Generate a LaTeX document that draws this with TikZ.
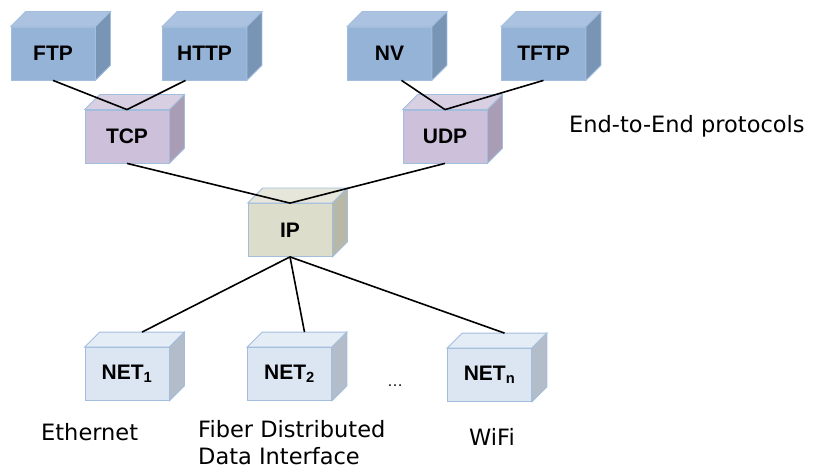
\documentclass[tikz,border=0pt]{standalone}
\usepackage{fontspec}
\setmainfont{Liberation Sans}
\newfontfamily\labelfont{DejaVu Sans}

\definecolor{appfront}{HTML}{95B3D7}
\definecolor{apptop}{HTML}{ABC3E0}
\definecolor{appside}{HTML}{7995B6}
\definecolor{tpfront}{HTML}{CCC0DA}
\definecolor{tptop}{HTML}{D8CFE3}
\definecolor{tpside}{HTML}{A99DB5}
\definecolor{ipfront}{HTML}{DDDDCC}
\definecolor{iptop}{HTML}{E6E6DA}
\definecolor{ipside}{HTML}{B8B8A8}
\definecolor{netfront}{HTML}{DCE6F2}
\definecolor{nettop}{HTML}{E4ECF6}
\definecolor{netside}{HTML}{B3BDC9}
\definecolor{edge}{HTML}{A3BEDD}

\begin{document}
\begin{tikzpicture}[x=1pt, y=-1pt,
        box/.style={draw=edge, line width=0.8pt, minimum width=84pt, minimum height=53pt,
            inner sep=0pt, font=\fontsize{21}{24}\selectfont\bfseries},
        link/.style={line width=1.6pt},
        caption/.style={font=\labelfont\fontsize{22.5}{27}\selectfont, inner sep=0pt}]
        \useasboundingbox (0, 0) rectangle (813, 470);

        \node [box, fill=appfront] (ftp) at (53, 53.5) {FTP};
        \node [box, fill=appfront] (http) at (204.5, 53.5) {HTTP};
        \node [box, fill=appfront] (nv) at (389.5, 53.5) {NV};
        \node [box, fill=appfront] (tftp) at (543.5, 53.5) {TFTP};
        \node [box, fill=tpfront] (tcp) at (127, 136.5) {TCP};
        \node [box, fill=tpfront] (udp) at (445, 136.5) {UDP};
        \node [box, fill=ipfront] (ip) at (290, 230) {IP};
        \node [box, fill=netfront] (net1) at (127, 374) {NET\textsubscript{1}};
        \node [box, fill=netfront] (net2) at (289.5, 374) {NET\textsubscript{2}};
        \node [box, fill=netfront] (netn) at (489.5, 375) {NET\textsubscript{n}};

        \foreach \n/\col in {ftp/app, http/app, nv/app, tftp/app, tcp/tp, udp/tp, ip/ip, net1/net, net2/net, netn/net} {
            \filldraw [draw=edge, line width=0.8pt, fill=\col top] (\n.north west) -- ++(15, -15)
                -- ([shift={(15, -15)}]\n.north east) -- (\n.north east) -- cycle;
            \filldraw [draw=edge, line width=0.8pt, fill=\col side] (\n.north east) -- ([shift={(15, -15)}]\n.north east)
                -- ([shift={(15, -15)}]\n.south east) -- (\n.south east) -- cycle;
        }

        \draw [link] (ftp.south) -- (tcp.north);
        \draw [link] ([xshift=-19pt]http.south) -- (tcp.north);
        \draw [link] ([xshift=12pt]nv.south) -- (udp.north);
        \draw [link] (tftp.south) -- (udp.north);
        \draw [link] (tcp.south) -- (ip.north);
        \draw [link] (udp.south) -- (ip.north);
        \foreach \n in {net1, net2, netn}
            \draw [link] (ip.south) -- ([shift={(15, -15)}]\n.north);

        \node [caption, anchor=base west] (e2e) at (569, 133) {End-to-End protocols};
        \node [caption, anchor=base west] (eth) at (41, 440) {Ethernet};
        \node [caption, anchor=base west, align=left] (fddi) at (198, 464) {Fiber Distributed\\Data Interface};
        \node [caption, anchor=base west] (wifi) at (469, 445) {WiFi};
        \node [anchor=base, font=\fontsize{16}{16}\selectfont] (dots) at (395, 386) {\dots};
    \end{tikzpicture}
\end{document}
